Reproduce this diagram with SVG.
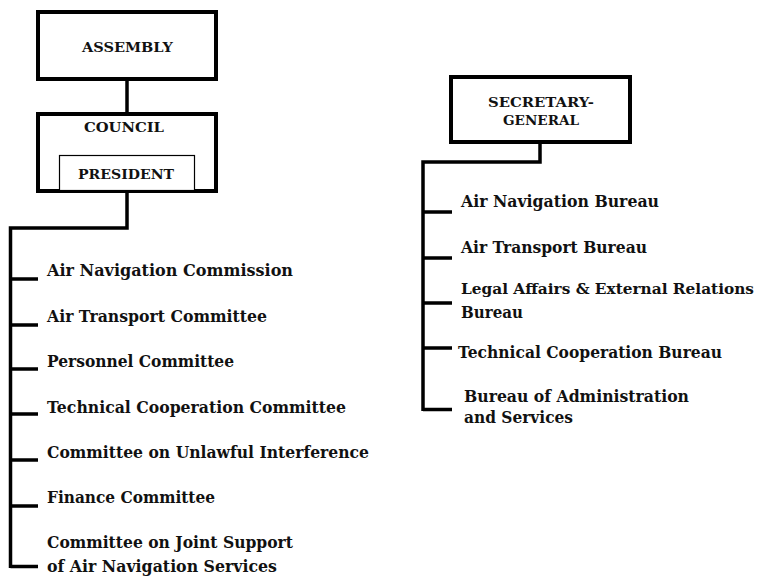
<svg xmlns="http://www.w3.org/2000/svg" width="761" height="578" viewBox="0 0 761 578">
<style>
.box{fill:#fff;stroke:#000;stroke-width:4}
.inner{fill:#fff;stroke:#000;stroke-width:1.2}
.conn{fill:none;stroke:#000;stroke-width:3.5;stroke-linejoin:miter;stroke-linecap:butt}
text{font-family:"DejaVu Serif","Liberation Serif",serif;font-weight:bold;fill:#111}
.h{font-size:13.5px}
.t{font-size:16px}
.n{font-size:14px}
</style>
<rect width="761" height="578" fill="#fff"/>
<g id="connectors">
<line class="conn" x1="127" y1="79" x2="127" y2="114"/>
<path class="conn" d="M127,191 V228 H10.5 V568"/>
<path class="conn" d="M10.5,279 H38 M10.5,325 H38 M10.5,369 H38 M10.5,414 H38 M10.5,460 H38 M10.5,506 H38 M10.5,566.5 H38"/>
<path class="conn" d="M540,142 V162 H423 V411"/>
<path class="conn" d="M423,212 H452 M423,258 H452 M423,303 H452 M423,348 H452 M423,409.5 H452"/>
</g>
<g id="assembly">
<rect class="box" x="38" y="12" width="178" height="67"/>
<text class="h" x="82" y="52" textLength="91" lengthAdjust="spacingAndGlyphs">ASSEMBLY</text>
</g>
<g id="council">
<rect class="box" x="38" y="114" width="178" height="77"/>
<text class="h" x="84" y="132" textLength="80" lengthAdjust="spacingAndGlyphs">COUNCIL</text>
</g>
<g id="president">
<rect class="inner" x="59.5" y="155.5" width="135" height="35"/>
<text class="h" x="78" y="179" textLength="96" lengthAdjust="spacingAndGlyphs">PRESIDENT</text>
</g>
<g id="secretary-general">
<rect class="box" x="451" y="77" width="179" height="65"/>
<text class="h" x="488" y="107" textLength="106" lengthAdjust="spacingAndGlyphs">SECRETARY-</text>
<text class="h" x="503" y="125" textLength="76" lengthAdjust="spacingAndGlyphs">GENERAL</text>
</g>
<g id="air-navigation-commission"><text class="t" x="47" y="276" textLength="246" lengthAdjust="spacingAndGlyphs">Air Navigation Commission</text></g>
<g id="air-transport-committee"><text class="t" x="47" y="322" textLength="220" lengthAdjust="spacingAndGlyphs">Air Transport Committee</text></g>
<g id="personnel-committee"><text class="t" x="47" y="367" textLength="187" lengthAdjust="spacingAndGlyphs">Personnel Committee</text></g>
<g id="technical-cooperation-committee"><text class="t" x="47" y="413" textLength="299" lengthAdjust="spacingAndGlyphs">Technical Cooperation Committee</text></g>
<g id="committee-unlawful-interference"><text class="t" x="47" y="458" textLength="322" lengthAdjust="spacingAndGlyphs">Committee on Unlawful Interference</text></g>
<g id="finance-committee"><text class="t" x="47" y="503" textLength="168" lengthAdjust="spacingAndGlyphs">Finance Committee</text></g>
<g id="committee-joint-support">
<text class="t" x="47" y="548" textLength="246" lengthAdjust="spacingAndGlyphs">Committee on Joint Support</text>
<text class="t" x="47" y="572" textLength="230" lengthAdjust="spacingAndGlyphs">of Air Navigation Services</text>
</g>
<g id="air-navigation-bureau"><text class="t" x="461" y="207" textLength="198" lengthAdjust="spacingAndGlyphs">Air Navigation Bureau</text></g>
<g id="air-transport-bureau"><text class="t" x="461" y="253" textLength="186" lengthAdjust="spacingAndGlyphs">Air Transport Bureau</text></g>
<g id="legal-affairs-bureau">
<text class="n" x="461" y="294" textLength="293" lengthAdjust="spacingAndGlyphs">Legal Affairs &amp; External Relations</text>
<text class="t" x="461" y="318" textLength="62" lengthAdjust="spacingAndGlyphs">Bureau</text>
</g>
<g id="technical-cooperation-bureau"><text class="t" x="458" y="358" textLength="264" lengthAdjust="spacingAndGlyphs">Technical Cooperation Bureau</text></g>
<g id="bureau-administration">
<text class="t" x="464" y="402" textLength="225" lengthAdjust="spacingAndGlyphs">Bureau of Administration</text>
<text class="t" x="464" y="423" textLength="109" lengthAdjust="spacingAndGlyphs">and Services</text>
</g>
</svg>
